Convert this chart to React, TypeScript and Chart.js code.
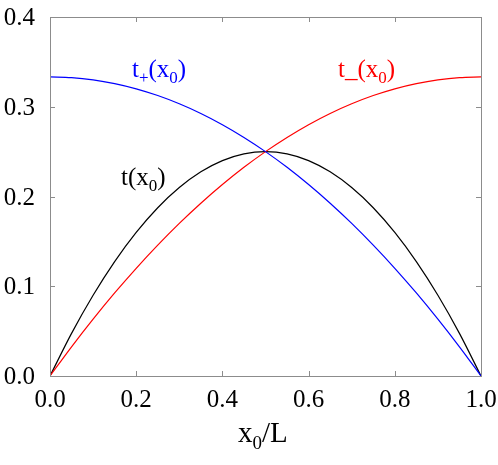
import React, { useEffect, useRef } from "react";
import { Chart, registerables } from "chart.js";

Chart.register(...registerables);

const xValues = [0, 0.05, 0.1, 0.15, 0.2, 0.25, 0.3, 0.35, 0.4, 0.45, 0.5, 0.55, 0.6, 0.65, 0.7, 0.75, 0.8, 0.85, 0.9, 0.95, 1.0];
const tValues = [0, 0.0475, 0.09, 0.1275, 0.16, 0.1875, 0.21, 0.2275, 0.24, 0.2475, 0.25, 0.2475, 0.24, 0.2275, 0.21, 0.1875, 0.16, 0.1275, 0.09, 0.0475, 0];
const tPlusValues = [0.3333, 0.3325, 0.33, 0.3258, 0.32, 0.3125, 0.3033, 0.2925, 0.28, 0.2658, 0.25, 0.2325, 0.2133, 0.1925, 0.17, 0.1458, 0.12, 0.0925, 0.0633, 0.0325, 0];
const tMinusValues = [0, 0.0325, 0.0633, 0.0925, 0.12, 0.1458, 0.17, 0.1925, 0.2133, 0.2325, 0.25, 0.2658, 0.28, 0.2925, 0.3033, 0.3125, 0.32, 0.3258, 0.33, 0.3325, 0.3333];
const xTicks = [0, 0.2, 0.4, 0.6, 0.8, 1.0];
const yTicks = [0, 0.1, 0.2, 0.3, 0.4];

const FONT = "'Liberation Serif', 'Times New Roman', serif";

function pts(ys: number[]) {
  return xValues.map((x, i) => ({ x, y: ys[i] }));
}

const decorPlugin = {
  id: "decor",
  afterDraw(chart: any) {
    const { ctx, chartArea: a, scales } = chart;
    const xs = scales.x;
    const ys = scales.y;
    ctx.save();
    ctx.strokeStyle = "#8c8c8c";
    ctx.lineWidth = 1;
    ctx.strokeRect(a.left + 0.5, a.top + 0.5, a.right - a.left, a.bottom - a.top);
    const tl = 5;
    ctx.beginPath();
    for (const v of xTicks.slice(1, -1)) {
      const px = Math.round(xs.getPixelForValue(v)) + 0.5;
      ctx.moveTo(px, a.bottom);
      ctx.lineTo(px, a.bottom - tl);
      ctx.moveTo(px, a.top);
      ctx.lineTo(px, a.top + tl);
    }
    for (const v of yTicks.slice(1, -1)) {
      const py = Math.round(ys.getPixelForValue(v)) + 0.5;
      ctx.moveTo(a.left, py);
      ctx.lineTo(a.left + tl, py);
      ctx.moveTo(a.right, py);
      ctx.lineTo(a.right - tl, py);
    }
    ctx.stroke();

    // tick labels
    ctx.fillStyle = "#000";
    ctx.font = `25px ${FONT}`;
    ctx.textBaseline = "alphabetic";
    ctx.textAlign = "center";
    for (const v of xTicks) {
      ctx.fillText(v.toFixed(1), xs.getPixelForValue(v), a.bottom + 31);
    }
    ctx.textAlign = "right";
    for (const v of yTicks) {
      ctx.fillText(v.toFixed(1), a.left - 15, ys.getPixelForValue(v) + 8);
    }

    const drawSub = (x: number, y: number, parts: [string, number, number][], color: string) => {
      ctx.fillStyle = color;
      ctx.textBaseline = "alphabetic";
      ctx.textAlign = "left";
      let cx = x;
      for (const [txt, size, dy] of parts) {
        ctx.font = `${size}px ${FONT}`;
        ctx.fillText(txt, cx, y + dy);
        cx += ctx.measureText(txt).width;
      }
    };
    drawSub(238, 442, [["x", 29, 0], ["0", 19, 7], ["/L", 29, 0]], "#000");
    drawSub(132, 77, [["t", 25, 0], ["+", 17, 6], ["(x", 25, 0], ["0", 17, 6], [")", 25, 0]], "#0000ff");
    drawSub(338, 77, [["t", 25, 0], ["_", 25, 0], ["(x", 25, 0], ["0", 17, 6], [")", 25, 0]], "#ff0000");
    drawSub(121, 185, [["t", 25, 0], ["(x", 25, 0], ["0", 17, 6], [")", 25, 0]], "#000");
    ctx.restore();
  },
};

export default function App() {
  const ref = useRef<HTMLCanvasElement>(null);
  useEffect(() => {
    document.body.style.margin = "0";
    const chart = new Chart(ref.current!, {
      type: "line",
      data: {
        datasets: [
          { label: "t+", data: pts(tPlusValues), borderColor: "#0000ff", borderWidth: 1.2, pointRadius: 0, cubicInterpolationMode: "monotone", fill: false },
          { label: "t-", data: pts(tMinusValues), borderColor: "#ff0000", borderWidth: 1.2, pointRadius: 0, cubicInterpolationMode: "monotone", fill: false },
          { label: "t", data: pts(tValues), borderColor: "#000000", borderWidth: 1.2, pointRadius: 0, cubicInterpolationMode: "monotone", fill: false },
        ],
      },
      options: {
        responsive: false,
        animation: false,
        layout: { padding: { left: 0, top: 17, right: 17, bottom: 0 } },
        plugins: { legend: { display: false }, tooltip: { enabled: false } },
        scales: {
          x: {
            type: "linear",
            min: 0,
            max: 1,
            afterBuildTicks: (s: any) => { s.ticks = xTicks.map((v) => ({ value: v })); },
            afterFit: (s: any) => { s.height = 89; },
            grid: { display: false, drawTicks: false },
            border: { display: false },
            ticks: { display: false },
          },
          y: {
            type: "linear",
            min: 0,
            max: 0.4,
            afterBuildTicks: (s: any) => { s.ticks = yTicks.map((v) => ({ value: v })); },
            afterFit: (s: any) => { s.width = 50; },
            grid: { display: false, drawTicks: false },
            border: { display: false },
            ticks: { display: false },
          },
        },
      },
      plugins: [decorPlugin],
    } as any);
    return () => chart.destroy();
  }, []);
  return (
    <div>
      <canvas ref={ref} width={498} height={465} />
    </div>
  );
}
